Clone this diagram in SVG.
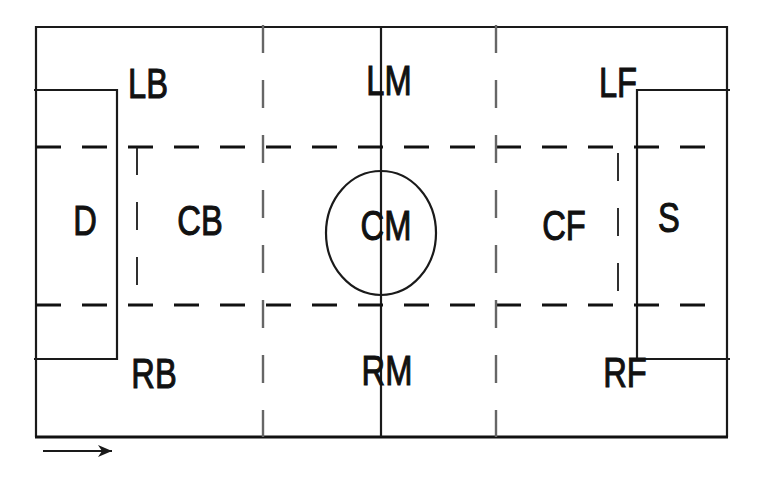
<svg xmlns="http://www.w3.org/2000/svg" width="763" height="480" viewBox="0 0 763 480">
<style>
.solid{fill:none;stroke:#1a1a1a;stroke-width:2.2}
.hdash{fill:none;stroke:#111;stroke-width:3;stroke-dasharray:25 21}
.vdash{fill:none;stroke:#666;stroke-width:2.4;stroke-dasharray:28 27}
.idash{fill:none;stroke:#1a1a1a;stroke-width:1.8;stroke-dasharray:28 27}
.lbl{font-family:"Liberation Sans",Arial,sans-serif;font-size:43px;fill:#111;stroke:#111;stroke-width:1.1;text-anchor:middle}
</style>
<defs>
<marker id="ah" viewBox="0 0 14 14" refX="14" refY="7" markerWidth="14" markerHeight="14" markerUnits="userSpaceOnUse" orient="auto">
<path d="M0,1 L14,7 L0,13 L4,7 Z" fill="#1a1a1a"/>
</marker>
</defs>
<rect width="763" height="480" fill="#fff"/>
<g id="field">
<path class="solid" d="M36,437 L36,27 L727,27 L727,437"/>
<line x1="35" y1="437" x2="728" y2="437" stroke="#111" stroke-width="3.2"/>
<line class="solid" x1="381" y1="27" x2="381" y2="437" stroke-width="1.8"/>
<path class="solid" d="M34,90 L117,90 L117,359 L34,359"/>
<path class="solid" d="M730,90 L637,90 L637,359 L730,359"/>
<ellipse class="solid" cx="381" cy="233" rx="55" ry="62" stroke-width="2.6"/>
</g>
<g id="zones">
<line class="hdash" x1="36" y1="147" x2="709" y2="147"/>
<line class="hdash" x1="36" y1="305" x2="709" y2="305"/>
<line class="vdash" x1="263" y1="25" x2="263" y2="437"/>
<line class="vdash" x1="496" y1="25" x2="496" y2="437"/>
<line class="idash" x1="137" y1="147" x2="137" y2="305"/>
<line class="idash" x1="618" y1="153" x2="618" y2="305"/>
</g>
<g id="connectors">
<line x1="43" y1="451" x2="112" y2="451" stroke="#1a1a1a" stroke-width="2.2" marker-end="url(#ah)"/>
</g>
<g id="node-LB"><text class="lbl" transform="translate(148,98) scale(0.76,1)">LB</text></g>
<g id="node-LM"><text class="lbl" transform="translate(389,95) scale(0.76,1)">LM</text></g>
<g id="node-LF"><text class="lbl" transform="translate(618,97) scale(0.76,1)">LF</text></g>
<g id="node-D"><text class="lbl" transform="translate(85,235) scale(0.76,1)">D</text></g>
<g id="node-CB"><text class="lbl" transform="translate(200,235) scale(0.76,1)">CB</text></g>
<g id="node-CM"><text class="lbl" transform="translate(386,240) scale(0.76,1)">CM</text></g>
<g id="node-CF"><text class="lbl" transform="translate(564,240) scale(0.76,1)">CF</text></g>
<g id="node-S"><text class="lbl" transform="translate(669,232) scale(0.76,1)">S</text></g>
<g id="node-RB"><text class="lbl" transform="translate(154,388) scale(0.76,1)">RB</text></g>
<g id="node-RM"><text class="lbl" transform="translate(387,385) scale(0.76,1)">RM</text></g>
<g id="node-RF"><text class="lbl" transform="translate(625,387) scale(0.76,1)">RF</text></g>
</svg>
